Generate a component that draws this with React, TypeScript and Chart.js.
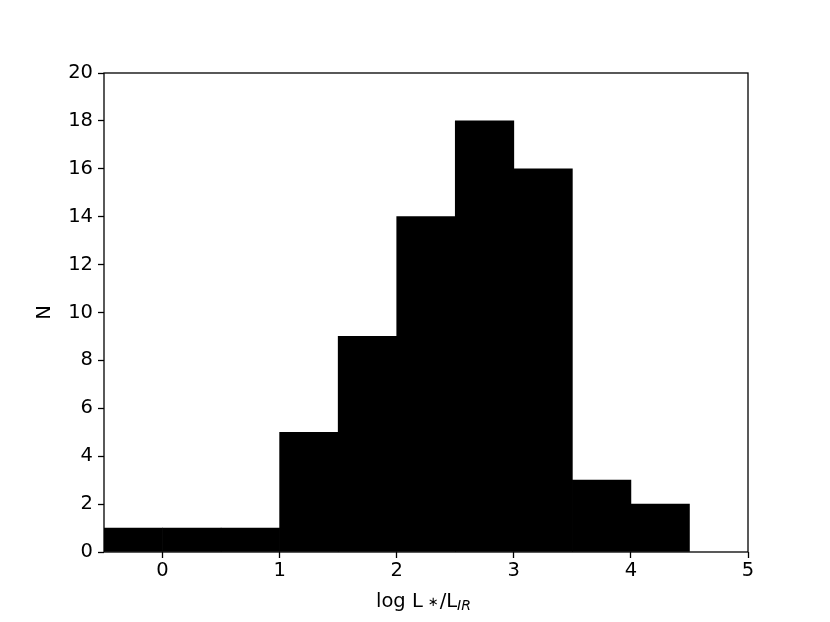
import React, { useEffect, useRef } from "react";
import { Chart, registerables } from "chart.js";

Chart.register(...registerables);

const binStarts = [-0.5, 0, 0.5, 1, 1.5, 2, 2.5, 3, 3.5, 4];
const binWidth = 0.5;
const counts = [1, 1, 1, 5, 9, 14, 18, 16, 3, 2];
const xTicks = [0, 1, 2, 3, 4, 5];
const yTicks = [0, 2, 4, 6, 8, 10, 12, 14, 16, 18, 20];
const xTitleParts = { main: "log L", star: "∗", slash: "/L", sub: "IR" };
const yTitle = "N";

const FONT = "'DejaVu Sans', sans-serif";
const FS = 19.5;

const frame = {
  id: "frame",
  afterDraw(chart: any) {
    const { ctx, chartArea } = chart;
    const { left, right, top, bottom } = chartArea;
    ctx.save();
    ctx.strokeStyle = "#000";
    ctx.lineWidth = 1.3;
    ctx.strokeRect(left, top, right - left, bottom - top);

    // x title
    ctx.fillStyle = "#000";
    ctx.textBaseline = "alphabetic";
    ctx.textAlign = "left";
    const fMain = `${FS}px ${FONT}`;
    const fStar = `13px ${FONT}`;
    const fSub = `italic 14px ${FONT}`;
    const base = 607;
    ctx.font = fMain;
    ctx.fillText(xTitleParts.main, 376, base);
    const wMain = ctx.measureText(xTitleParts.main).width;
    let x = 376 + wMain + 5;
    ctx.font = fStar;
    const wStar = ctx.measureText(xTitleParts.star).width;
    ctx.fillText(xTitleParts.star, x, base - 1);
    x += wStar + 1;
    ctx.font = fMain;
    ctx.fillText(xTitleParts.slash, x, base);
    x += ctx.measureText(xTitleParts.slash).width;
    ctx.font = fSub;
    ctx.fillText(xTitleParts.sub, x, base + 3);

    // y title
    ctx.font = fMain;
    ctx.translate(45, (top + bottom) / 2);
    ctx.rotate(-Math.PI / 2);
    ctx.textAlign = "center";
    ctx.textBaseline = "middle";
    ctx.fillText(yTitle, 0, 0);
    ctx.restore();
  },
};

export default function App() {
  const ref = useRef<HTMLCanvasElement>(null);
  useEffect(() => {
    document.body.style.margin = "0";
    const data = binStarts.map((s, i) => ({ x: s + binWidth / 2, y: counts[i] }));
    const chart = new Chart(ref.current!, {
      type: "bar",
      data: {
        datasets: [
          {
            data: data as any,
            backgroundColor: "#000",
            borderColor: "#222",
            borderWidth: 0,
            barPercentage: 1,
            categoryPercentage: 1,
          },
        ],
      },
      options: {
        animation: false,
        responsive: false,
        devicePixelRatio: 1,
        layout: { padding: { top: 73, right: 82, left: 0, bottom: 0 } },
        plugins: { legend: { display: false }, tooltip: { enabled: false } },
        scales: {
          x: {
            type: "linear",
            min: -0.5,
            max: 5,
            offset: false,
            afterBuildTicks: (s: any) => {
              s.ticks = xTicks.map((v) => ({ value: v }));
            },
            afterFit: (s: any) => {
              s.height = 70;
            },
            grid: { offset: false, drawOnChartArea: false, drawTicks: true, tickLength: 6, tickColor: "#000", tickWidth: 1.3 },
            border: { display: false },
            ticks: { color: "#000", font: { family: FONT, size: FS }, padding: 1, maxRotation: 0 },
          },
          y: {
            min: 0,
            max: 20,
            afterBuildTicks: (s: any) => {
              s.ticks = yTicks.map((v) => ({ value: v }));
            },
            afterFit: (s: any) => {
              s.width = 104;
            },
            grid: { drawOnChartArea: false, drawTicks: true, tickLength: 6, tickColor: "#000", tickWidth: 1.3 },
            border: { display: false },
            ticks: { color: "#000", font: { family: FONT, size: FS }, padding: 5 },
          },
        },
      },
      plugins: [frame],
    });
    return () => chart.destroy();
  }, []);
  return (
    <div style={{ position: "fixed", left: 0, top: 0, width: 830, height: 622, background: "#fff" }}>
      <canvas ref={ref} width={830} height={622} style={{ width: 830, height: 622 }} />
    </div>
  );
}
